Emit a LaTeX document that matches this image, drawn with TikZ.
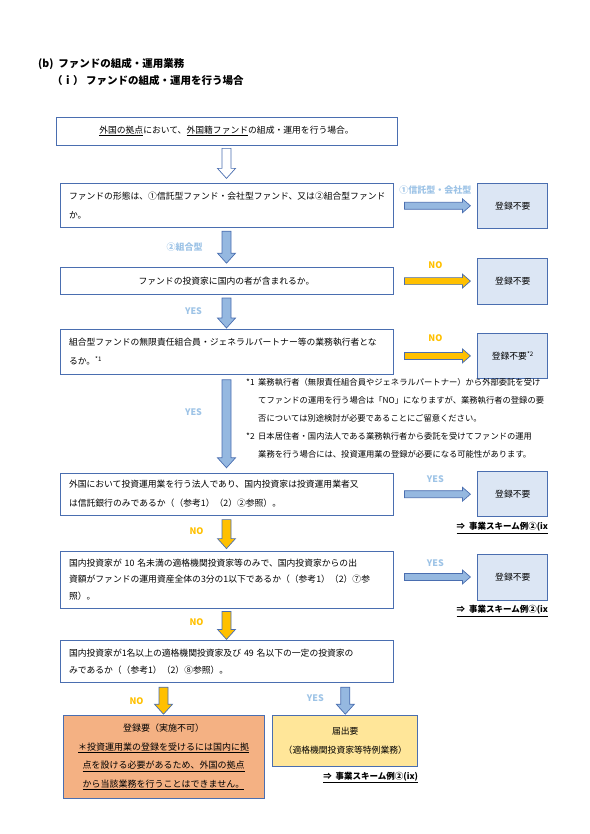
\documentclass[tikz,border=0pt]{standalone}
\usepackage{fontspec}
\setmainfont{Noto Sans CJK JP}
\usetikzlibrary{positioning, calc}
\definecolor{boxline}{HTML}{4A6EB0}
\definecolor{arrblue}{HTML}{95B8E0}
\definecolor{arrorange}{HTML}{FFC000}
\definecolor{lblblue}{HTML}{9DC3E6}
\definecolor{lblorange}{HTML}{FFC000}
\definecolor{rfill}{HTML}{DCE6F4}
\definecolor{ngfill}{HTML}{F4B183}
\definecolor{okfill}{HTML}{FFE699}

\begin{document}
\begin{tikzpicture}[
      x=1pt, y=1pt,
      qbox/.style={draw=boxline, line width=0.8pt, fill=white, text width=315pt, align=left, inner xsep=9pt, inner ysep=3pt, font=\fontsize{8.8}{19}\selectfont},
      rbox/.style={draw=boxline, line width=0.8pt, fill=rfill, minimum width=70pt, minimum height=45pt, font=\fontsize{8.8}{11}\selectfont},
      bbox/.style={draw=boxline, line width=0.8pt, align=center, inner sep=3pt, font=\fontsize{9}{18.5}\selectfont},
      hd/.style={anchor=west, inner sep=0pt, font=\fontsize{10.5}{13}\selectfont\bfseries},
      lbyes/.style={text=lblblue, inner sep=0pt, font=\fontsize{9}{11}\selectfont\bfseries},
      lbno/.style={text=lblorange, inner sep=0pt, font=\fontsize{9}{11}\selectfont\bfseries},
      schemeref/.style={inner sep=0pt, font=\fontsize{8.5}{11}\selectfont\bfseries},
      fnote/.style={align=left, inner sep=0pt, font=\fontsize{8.3}{18}\selectfont},
      arr/.style n args={3}{to path={($(\tikztotarget)!#3!(\tikztostart)$) coordinate (tip)
        ($(\tikztostart)!#1!90:(\tikztotarget)$) -- ($(tip)!#1!90:(\tikztotarget)$) -- ($(tip)!#2!90:(\tikztotarget)$) -- (\tikztotarget)
        -- ($(tip)!#2!-90:(\tikztotarget)$) -- ($(tip)!#1!-90:(\tikztotarget)$) -- ($(\tikztostart)!#1!-90:(\tikztotarget)$) -- cycle}},
      varr/.style={arr={4.5pt}{9pt}{10pt}, draw=boxline, line width=0.7pt},
      harr/.style={arr={3.5pt}{7pt}{8pt}, draw=boxline, line width=0.7pt}
    ]
    \useasboundingbox (0,0) rectangle (589,-834);
    \node[hd] (h1) at (38,-64) {(b)\ \ ファンドの組成・運用業務};
    \node[hd] (h2) at (52,-81) {（ｉ） ファンドの組成・運用を行う場合};
    \node[qbox, text width=323pt, align=center, minimum height=28pt] (q0) at (226.5,-131) {\underline{外国の拠点}において、\underline{外国籍ファンド}の組成・運用を行う場合。};
    \node[qbox, minimum height=44pt] (q1) [below=38pt of q0] {ファンドの形態は、①信託型ファンド・会社型ファンド、又は②組合型ファンド\\か。};
    \node[qbox, align=center, minimum height=27pt] (q2) [below=39pt of q1] {ファンドの投資家に国内の者が含まれるか。};
    \node[qbox, minimum height=45pt] (q3) [below=34pt of q2] {組合型ファンドの無限責任組合員・ジェネラルパートナー等の業務執行者とな\\るか。\textsuperscript{*1}};
    \node[qbox, minimum height=42pt] (q4) [below=98pt of q3] {外国において投資運用業を行う法人であり、国内投資家は投資運用業者又\\は信託銀行のみであるか（（参考1）（2）②参照）。};
    \node[qbox, minimum height=57pt, font=\fontsize{8.8}{16.5}\selectfont] (q5) [below=35pt of q4] {国内投資家が 10 名未満の適格機関投資家等のみで、国内投資家からの出\\資額がファンドの運用資産全体の3分の1以下であるか（（参考1）（2）⑦参\\照）。};
    \node[qbox, minimum height=42pt, font=\fontsize{8.8}{17}\selectfont] (q6) [below=32pt of q5] {国内投資家が1名以上の適格機関投資家及び 49 名以下の一定の投資家の\\みであるか（（参考1）（2）⑧参照）。};
    \node[rbox] (r1) [right=84pt of q1] {登録不要};
    \node[rbox, minimum height=46pt] (r2) [right=84pt of q2] {登録不要};
    \node[rbox] (r3) [right=84pt of q3, yshift=-4pt] {登録不要\textsuperscript{*2}};
    \node[rbox] (r4) [right=84pt of q4] {登録不要};
    \node[rbox, minimum height=46pt] (r5) [right=84pt of q5, yshift=2.5pt] {登録不要};
    \node[bbox, fill=ngfill, minimum width=201pt, minimum height=83pt] (b1) [below=32pt of q6.south west, anchor=north west, xshift=3pt] {登録要（実施不可）\\\underline{＊投資運用業の登録を受けるには国内に拠}\\\underline{点を設ける必要があるため、外国の拠点}\\\underline{から当該業務を行うことはできません。}};
    \node[bbox, fill=okfill, minimum width=145pt, minimum height=51pt, font=\fontsize{8.8}{19}\selectfont] (b2) [right=8pt of b1.north east, anchor=north west] {届出要\\（適格機関投資家等特例業務）};
    \node[schemeref] (s4) [below=5pt of r4.south east, anchor=north east] {\underline{⇒\ \ 事業スキーム例②(ix}};
    \node[schemeref] (s5) [below=5pt of r5.south east, anchor=north east] {\underline{⇒\ \ 事業スキーム例②(ix}};
    \node[schemeref] (s6) [below=5pt of b2.south east, anchor=north east] {\underline{⇒\ \ 事業スキーム例②(ix)}};
    \node[fnote, anchor=north west] (fn) at (246,-378) {\makebox[12pt][l]{*1}業務執行者（無限責任組合員やジェネラルパートナー）から外部委託を受け\\
      \hspace*{12pt}てファンドの運用を行う場合は「NO」になりますが、業務執行者の登録の要\\
      \hspace*{12pt}否については別途検討が必要であることにご留意ください。\\
      \makebox[12pt][l]{*2}日本居住者・国内法人である業務執行者から委託を受けてファンドの運用\\
      \hspace*{12pt}業務を行う場合には、投資運用業の登録が必要になる可能性があります。};
    \draw[varr, fill=white] ([yshift=-3pt]q0.south) to ([yshift=5pt]q1.north);
    \draw[varr, fill=arrblue] ([yshift=-3pt]q1.south) to ([yshift=4pt]q2.north);
    \draw[varr, fill=arrblue] ([yshift=-3pt]q2.south) to ([yshift=1pt]q3.north);
    \draw[varr, fill=arrblue] ([yshift=-5pt]q3.south) to ([yshift=5pt]q4.north);
    \draw[varr, fill=arrorange] ([yshift=-4pt]q4.south) to ([yshift=2pt]q5.north);
    \draw[varr, fill=arrorange] ([yshift=-3pt]q5.south) to ([yshift=1pt]q6.north);
    \draw[varr, fill=arrorange] ([yshift=-4pt]b1.north |- q6.south) to ([yshift=1pt]b1.north);
    \draw[varr, fill=arrblue] ([yshift=-4pt]b2.north |- q6.south) to ([yshift=1pt]b2.north);
    \draw[harr, fill=arrblue] ([xshift=11pt]q1.east |- r1.west) to ([xshift=-7pt]r1.west);
    \draw[harr, fill=arrorange] ([xshift=11pt]q2.east |- r2.west) to ([xshift=-7pt]r2.west);
    \draw[harr, fill=arrorange] ([xshift=11pt]q3.east |- r3.west) to ([xshift=-7pt]r3.west);
    \draw[harr, fill=arrblue] ([xshift=11pt]q4.east |- r4.west) to ([xshift=-7pt]r4.west);
    \draw[harr, fill=arrblue] ([xshift=11pt]q5.east |- r5.west) to ([xshift=-7pt]r5.west);
    \node[lbyes] (l1) at ($(q1.east)!.5!(r1.west)+(0,16)$) {①信託型・会社型};
    \node[lbno] (l2) at ($(q2.east)!.5!(r2.west)+(0,16)$) {NO};
    \node[lbno] (l3) at ($(q3.east)!.5!(r3.west)+(0,16)$) {NO};
    \node[lbyes] (l4) at ($(q4.east)!.5!(r4.west)+(0,15)$) {YES};
    \node[lbyes] (l5) at ($(q5.east)!.5!(r5.west)+(0,15)$) {YES};
    \node[lbyes] (l6) at ($(q1.south)!.5!(q2.north)+(-42,1)$) {②組合型};
    \node[lbyes] (l7) at ($(q2.south)!.5!(q3.north)+(-33,1)$) {YES};
    \node[lbyes] (l8) at ($(q3.south)!.5!(q4.north)+(-33,12)$) {YES};
    \node[lbno] (l9) at ($(q4.south)!.5!(q5.north)+(-30,2)$) {NO};
    \node[lbno] (l10) at ($(q5.south)!.5!(q6.north)+(-30,2)$) {NO};
    \node[lbno] (l11) at ($(b1.north |- q6.south)!.5!(b1.north)+(-27,-2)$) {NO};
    \node[lbyes] (l12) at ($(b2.north |- q6.south)!.5!(b2.north)+(-30,1)$) {YES};
  \end{tikzpicture}
\end{document}
